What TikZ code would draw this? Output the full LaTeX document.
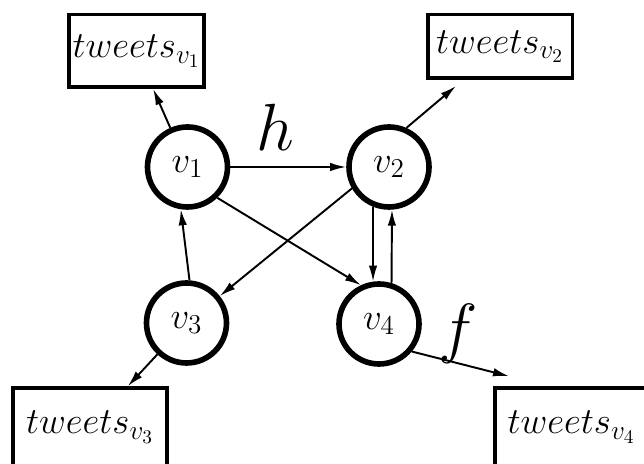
\RequirePackage{fix-cm}
\documentclass[tikz,border=0pt]{standalone}
\usepackage{amsmath, amssymb}
\usetikzlibrary{arrows.meta}
\DeclareMathSizes{21}{21}{15.5}{11}

\tikzset{
    vertex/.style={circle, draw, line width=3.2pt, minimum size=1.6cm, inner sep=0pt, font=\fontsize{21}{25}\selectfont},
    tweetbox/.style={rectangle, draw, line width=2pt, inner sep=0pt, font=\fontsize{21}{25}\selectfont},
    link/.style={-{Latex[length=3.2mm,width=1.7mm]}, line width=1.1pt},
    bigsym/.style={inner sep=0pt, font=\fontsize{38}{42}\selectfont}
}

\begin{document}
\begin{tikzpicture}
        \clip (0,0) rectangle (12.88,9.28);

        % Circles
        \node at (3.75,5.94) [vertex] (V1) {$v_1$};
        \node at (7.78,5.94) [vertex] (V2) {$v_2$};
        \node at (3.73,2.82) [vertex] (V3) {$v_3$};
        \node at (7.58,2.80) [vertex] (V4) {$v_4$};

        % Boxes
        \node at (2.73,8.26) [tweetbox, minimum width=2.71cm, minimum height=1.45cm] (T1) {$tweets_{v_1}$};
        \node at (10.0,8.35) [tweetbox, minimum width=2.89cm, minimum height=1.27cm] (T2) {$tweets_{v_2}$};
        \node at (1.8,0.74) [tweetbox, minimum width=3.09cm, minimum height=1.56cm] (T3) {$tweets_{v_3}$};
        \node at (11.43,0.74) [tweetbox, minimum width=3.07cm, minimum height=1.56cm] (T4) {$tweets_{v_4}$};

        % Labels
        \node at (5.5,6.74) [bigsym] (H) {$h$};
        \node at (9.16,2.6) [bigsym] (F) {$f$};

        % Arrows
        \draw[link] (V1) -- (V2);
        \draw[link] (V1.-46) -- (V4.115);
        \draw[link] (V2.210) -- (V3.39);
        \draw[link] (V3.86) -- (V1.261);
        \draw[link] (V2.248) -- (V4.98);
        \draw[link] (V4.73) -- (V2.274);

        \draw[link] (V1) -- (T1);
        \draw[link] (V2.66) -- ([shift={(-0.88,-0.12)}]T2.south);
        \draw[link] (V3) -- (T3);
        \draw[link] (V4.-40) -- ([shift={(0.32,0.2)}]T4.north west);

\end{tikzpicture}
\end{document}
